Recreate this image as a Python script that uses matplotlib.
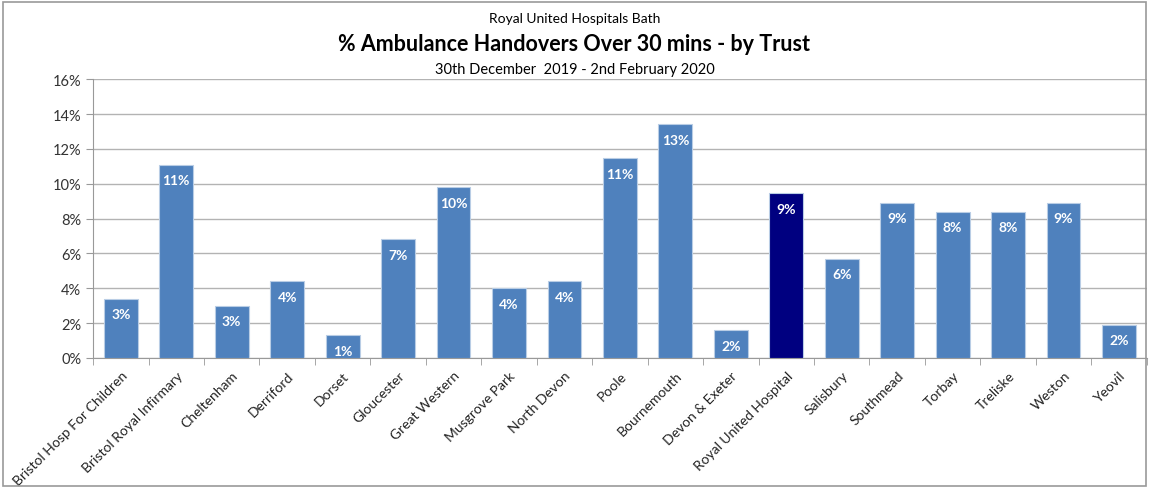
import matplotlib.pyplot as plt
import numpy as np
from matplotlib.patches import Rectangle

plt.rcParams['font.family'] = ['Lato', 'DejaVu Sans']

trusts = ["Bristol Hosp For Children", "Bristol Royal Infirmary", "Cheltenham", "Derriford",
          "Dorset", "Gloucester", "Great Western", "Musgrove Park", "North Devon", "Poole",
          "Bournemouth", "Devon & Exeter", "Royal United Hospital", "Salisbury", "Southmead",
          "Torbay", "Treliske", "Weston", "Yeovil"]
pct_over_30 = [3.4, 11.1, 3.0, 4.4, 1.3, 6.8, 9.8, 4.0, 4.4, 11.45,
               13.4, 1.6, 9.45, 5.7, 8.9, 8.4, 8.4, 8.9, 1.9]
highlight = "Royal United Hospital"

fig = plt.figure(figsize=(11.49, 4.89), dpi=100)
ax = fig.add_axes([0.081, 0.266, 0.917, 0.570])

x = np.arange(len(trusts))
colors = ["#000080" if t == highlight else "#4F81BD" for t in trusts]
bars = ax.bar(x, pct_over_30, width=0.61, color=colors, edgecolor="#B9CDE5", linewidth=0.8, zorder=3)

for xi, v in zip(x, pct_over_30):
    ax.text(xi, v - 0.55, "%d%%" % int(v + 0.5), ha="center", va="top", color="white",
            fontsize=10, fontweight="bold", zorder=4)

ax.set_xlim(-0.5, len(trusts) - 0.5)
ax.set_ylim(0, 16)
ax.set_yticks(np.arange(0, 17, 2))
ax.set_yticklabels(["%d%%" % v for v in range(0, 17, 2)], fontsize=10.5, color="#333333")
ax.yaxis.grid(True, color="#B3B3B3", linewidth=1, zorder=0)

ax.set_xticks(x)
ax.set_xticklabels(trusts, rotation=45, ha="right", rotation_mode="anchor", fontsize=10, color="#222222")
ax.tick_params(axis="x", length=0, pad=8)
ax.set_xticks(np.arange(-0.5, len(trusts), 1), minor=True)
ax.tick_params(axis="x", which="minor", length=5, color="#999999")
ax.tick_params(axis="y", length=5, color="#999999")

for s in ["top", "right"]:
    ax.spines[s].set_visible(False)
ax.spines["left"].set_color("#999999")
ax.spines["bottom"].set_color("#999999")

fig.text(0.5, 0.962, "Royal United Hospitals Bath", ha="center", va="center", fontsize=10)
fig.text(0.5, 0.91, "% Ambulance Handovers Over 30 mins - by Trust", ha="center", va="center",
         fontsize=15.5, fontweight="bold")
fig.text(0.5, 0.857, "30th December  2019 - 2nd February 2020", ha="center", va="center", fontsize=10.5)

fig.patches.append(Rectangle((0.003, 0.004), 0.994, 0.99, transform=fig.transFigure,
                             fill=False, edgecolor="#999999", linewidth=1.2))

fig.savefig("out.png", dpi=100)
